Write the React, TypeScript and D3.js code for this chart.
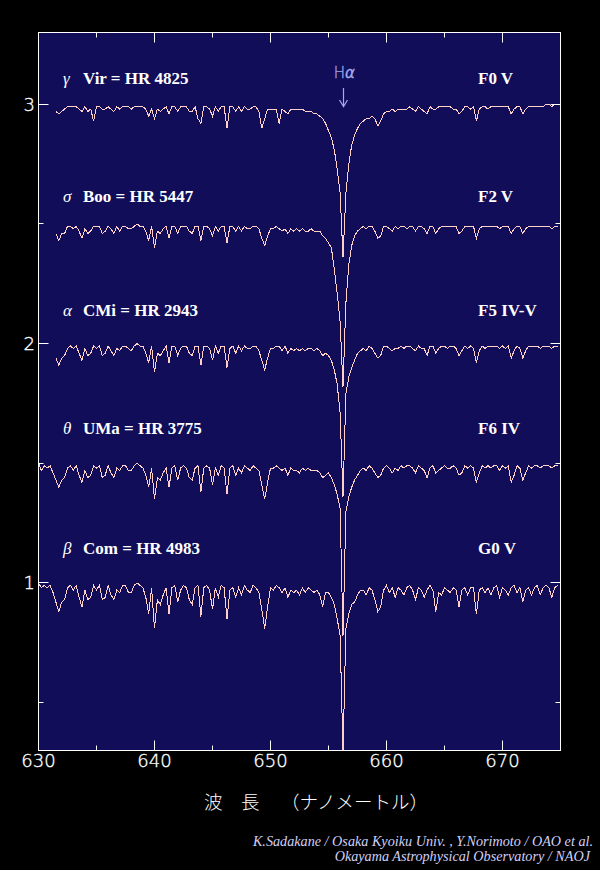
import React from 'react';
import * as d3 from 'd3';

// wavelength grid: 630.00 .. 675.00 nm, 0.25 nm step (index i -> 630 + 0.25 i)
const waveStart = 630;
const waveStep = 0.25;

const starGreek = ['γ', 'σ', 'α', 'θ', 'β'];
const starNames = ['Vir = HR 4825', 'Boo = HR 5447', 'CMi = HR 2943', 'UMa = HR 3775', 'Com = HR 4983'];
const spectralTypes = ['F0 V', 'F2 V', 'F5 IV-V', 'F6 IV', 'G0 V'];
const starOffsets = [2.0, 1.5, 1.0, 0.5, 0.0];

const xMajorTicks = [630, 640, 650, 660, 670];
const xMinorTicks = [635, 645, 655, 665, 675];
const yMajorTicks = [1, 2, 3];
const yMinorTicks = [0.5, 1.5, 2.5];

const xAxisTitleA = '波　長';
const xAxisTitleB = '（ナノメートル）';
const creditLines = [
  'K.Sadakane / Osaka Kyoiku Univ. , Y.Norimoto / OAO et al.',
  'Okayama Astrophysical Observatory / NAOJ',
];

// normalized flux (percent of continuum), null = no data
const fluxF0V = [null, null, null, null, null, null, 97, 96, 97, 98, 99, 99, 99, 99, 98, 97, 99, 97, 98, 93, 99, 99, 98, 98, 99, 98, 97, 99, 98, 99, 99, 99, 98, 99, 99, 99, 99, 98, 95, 98, 94, 98, 97, 98, 99, 96, 99, 99, 97, 99, 99, 99, 97, 97, 99, 94, 92, 99, 99, 98, 95, 99, 97, 99, 99, 90, 99, 99, 97, 99, 97, 99, 98, 98, 99, 99, 97, 90, 94, 98, 98, 98, 98, 92, 98, 97, 96, 98, 98, 98, 98, 98, 97, 97, 97, 96, 96, 95, 94, 92, 89, 86, 81, 73, 63, 36, 63, 75, 83, 87, 90, 92, 93, 94, 94, 95, 94, 91, 93, 96, 97, 97, 98, 97, 98, 98, 98, 98, 99, 98, 97, 99, 98, 97, 96, 99, 98, 98, 99, 99, 99, 99, 99, 98, 98, 96, 97, 99, 99, 98, 99, 93, 98, 99, 99, 98, 99, 99, 99, 99, 99, 99, 99, 96, 98, 99, 99, 96, 98, 99, 99, 99, 99, 99, 99, 100, 100, 99, 100, 100, null];

const fluxF2V = [null, null, null, null, null, null, 96, 93, 96, 96, 99, 99, 98, 99, 97, 94, 98, 96, 97, 99, 99, 99, 96, 97, 99, 98, 96, 99, 97, 99, 99, 98, 98, 99, 100, 99, 99, 97, 93, 99, 90, 97, 96, 98, 99, 94, 99, 99, 96, 99, 99, 99, 97, 96, 99, 99, 93, 99, 99, 98, 95, 99, 97, 99, 99, 92, 99, 99, 97, 99, 97, 99, 98, 98, 99, 99, 98, 94, 91, 95, 98, 98, 99, 98, 97, 98, 96, 98, 97, 98, 97, 98, 97, 97, 98, 97, 97, 97, 95, 94, 92, 90, 81, 71, 59, 32, 67, 83, 91, 95, 97, 98, 99, 98, 99, 99, 97, 94, 95, 99, 99, 98, 97, 99, 98, 99, 99, 98, 99, 99, 97, 99, 99, 98, 96, 99, 99, 96, 98, 99, 99, 99, 99, 99, 99, 96, 97, 99, 99, 99, 99, 94, 98, 99, 99, 99, 99, 99, 99, 98, 99, 99, 99, 96, 98, 99, 99, 96, 98, 99, 99, 99, 99, 99, 99, 99, 99, 98, 99, 99, null];

const fluxF5IVV = [null, null, null, null, null, null, 94, 91, 94, 95, 98, 99, 98, 99, 96, 93, 98, 95, 96, 99, 98, 99, 95, 96, 99, 97, 95, 98, 97, 99, 99, 98, 97, 99, 100, 99, 99, 96, 92, 99, 88, 96, 95, 97, 99, 92, 99, 99, 95, 98, 99, 99, 96, 95, 99, 99, 91, 99, 99, 98, 93, 99, 96, 99, 99, 90, 98, 99, 96, 99, 97, 99, 98, 98, 99, 99, 97, 93, 89, 94, 98, 98, 99, 99, 97, 99, 96, 98, 97, 98, 97, 98, 97, 98, 98, 97, 98, 97, 95, 96, 95, 93, 89, 83, 71, 36, 79, 86, 90, 93, 96, 97, 98, 97, 99, 98, 96, 94, 95, 99, 99, 98, 97, 98, 98, 99, 98, 99, 99, 98, 97, 99, 98, 98, 95, 99, 99, 96, 98, 99, 99, 98, 99, 99, 98, 95, 97, 99, 98, 99, 98, 92, 97, 99, 98, 99, 99, 99, 99, 98, 99, 98, 99, 94, 97, 99, 98, 94, 97, 99, 99, 99, 99, 98, 99, 99, 99, 98, 99, 99, null];

const fluxF6IV = [100, 97, 99, 98, 99, 96, 93, 90, 93, 94, 98, 99, 97, 99, 95, 92, 97, 94, 95, 99, 98, 99, 94, 95, 99, 96, 94, 98, 97, 99, 99, 97, 97, 99, 100, 99, 98, 95, 90, 98, 85, 94, 93, 96, 98, 90, 98, 99, 93, 98, 99, 98, 94, 93, 98, 99, 88, 98, 99, 98, 91, 98, 95, 99, 98, 87, 98, 99, 95, 98, 96, 99, 98, 97, 99, 98, 97, 91, 85, 92, 98, 98, 99, 98, 97, 98, 95, 98, 97, 97, 96, 98, 97, 98, 97, 97, 97, 96, 94, 95, 96, 94, 91, 87, 81, 28, 80, 86, 90, 93, 95, 97, 98, 97, 99, 98, 96, 94, 95, 98, 99, 98, 96, 98, 97, 99, 98, 99, 99, 98, 96, 99, 98, 97, 94, 98, 99, 96, 97, 98, 99, 98, 98, 99, 98, 95, 96, 99, 98, 99, 98, 92, 96, 99, 98, 99, 98, 99, 99, 97, 99, 98, 99, 92, 95, 99, 98, 93, 96, 99, 98, 99, 99, 98, 99, 99, 99, 98, 99, 99, null];

const fluxG0V = [100, 98, 99, 98, 99, 96, 92, 88, 92, 93, 98, 99, 97, 99, 94, 90, 97, 93, 94, 99, 97, 99, 93, 94, 99, 95, 93, 97, 96, 99, 99, 96, 96, 99, 100, 99, 98, 94, 87, 98, 81, 93, 91, 95, 98, 87, 98, 99, 92, 97, 99, 98, 93, 91, 98, 99, 86, 98, 99, 97, 89, 98, 94, 99, 98, 85, 97, 98, 94, 98, 95, 99, 97, 96, 99, 98, 96, 89, 81, 90, 98, 97, 99, 98, 96, 98, 94, 97, 96, 97, 95, 98, 96, 98, 97, 96, 97, 95, 90, 96, 96, 94, 91, 85, 78, 29, 81, 87, 91, 92, 95, 97, 97, 95, 98, 97, 93, 88, 90, 97, 99, 96, 98, 94, 98, 97, 95, 98, 99, 97, 93, 98, 97, 94, 97, 99, 97, 88, 96, 95, 98, 97, 96, 98, 97, 90, 97, 98, 95, 98, 98, 87, 97, 98, 96, 98, 95, 98, 99, 94, 98, 97, 95, 98, 99, 96, 98, 92, 97, 98, 95, 98, 99, 95, 98, 99, 98, 94, 98, 99, null];

const starFluxes = [fluxF0V, fluxF2V, fluxF5IVV, fluxF6IV, fluxG0V];

// layout (not data)
const labelBaselines = [84, 202, 316, 434, 554];

const W = 600;
const H = 870;
const PLOT = { left: 38.5, right: 560.5, top: 32.5, bottom: 750.5 };

export default function App() {
  const x = d3.scaleLinear().domain([630, 675]).range([PLOT.left, PLOT.right]);
  const y = d3.scaleLinear().domain([0.3, 3.3]).range([PLOT.bottom, PLOT.top]);
  const crisp = (v: number) => Math.floor(v) + 0.5;

  const paths = starFluxes.map((flux, k) => {
    const pts = flux.map((f, i) => [waveStart + waveStep * i, f] as [number, number | null]);
    const gen = d3
      .line<[number, number | null]>()
      .defined((d) => d[1] != null)
      .x((d) => x(d[0]))
      .y((d) => y((d[1] as number) / 100 + starOffsets[k]));
    return gen(pts) || '';
  });

  const lineColor = '#ffd0c8';
  const axisColor = '#ffffff';
  const tickFont = "'DejaVu Sans', 'Liberation Sans', sans-serif";
  const serif = "'Liberation Serif', 'DejaVu Serif', serif";
  const hAlphaX = x(656.28);

  return (
    <svg
      width={W}
      height={H}
      viewBox={`0 0 ${W} ${H}`}
      style={{ position: 'absolute', left: 0, top: 0, display: 'block' }}
    >
      <defs>
        <clipPath id="plotClip">
          <rect x={PLOT.left} y={PLOT.top} width={PLOT.right - PLOT.left} height={PLOT.bottom - PLOT.top} />
        </clipPath>
      </defs>
      <rect x={0} y={0} width={W} height={H} fill="#000000" />
      <rect
        x={PLOT.left}
        y={PLOT.top}
        width={PLOT.right - PLOT.left}
        height={PLOT.bottom - PLOT.top}
        fill="#110d58"
      />

      {/* spectra */}
      <g clipPath="url(#plotClip)">
        {paths.map((d, k) => (
          <path
            key={k}
            d={d}
            fill="none"
            stroke={lineColor}
            strokeWidth={1}
            shapeRendering="crispEdges"
          />
        ))}
      </g>

      {/* frame */}
      <rect
        x={PLOT.left}
        y={PLOT.top}
        width={PLOT.right - PLOT.left}
        height={PLOT.bottom - PLOT.top}
        fill="none"
        stroke={axisColor}
        strokeWidth={1}
      />

      {/* x ticks (bottom and top, pointing inward) */}
      {xMajorTicks.map((v) => (
        <g key={'xM' + v}>
          <line x1={crisp(x(v))} x2={crisp(x(v))} y1={PLOT.bottom} y2={PLOT.bottom - 10} stroke={axisColor} />
          <line x1={crisp(x(v))} x2={crisp(x(v))} y1={PLOT.top} y2={PLOT.top + 10} stroke={axisColor} />
          <text
            x={x(v)}
            y={767}
            fill="#ffffff"
            stroke="#ffffff"
            strokeWidth={0.35}
            fontFamily={tickFont}
            fontWeight={200}
            fontSize={18}
            textAnchor="middle"
          >
            {v}
          </text>
        </g>
      ))}
      {xMinorTicks.map((v) => (
        <g key={'xm' + v}>
          <line x1={crisp(x(v))} x2={crisp(x(v))} y1={PLOT.bottom} y2={PLOT.bottom - 5} stroke={axisColor} />
          <line x1={crisp(x(v))} x2={crisp(x(v))} y1={PLOT.top} y2={PLOT.top + 5} stroke={axisColor} />
        </g>
      ))}

      {/* y ticks (left and right) */}
      {yMajorTicks.map((v) => (
        <g key={'yM' + v}>
          <line x1={PLOT.left} x2={PLOT.left + 10} y1={crisp(y(v))} y2={crisp(y(v))} stroke={axisColor} />
          <line x1={PLOT.right} x2={PLOT.right - 10} y1={crisp(y(v))} y2={crisp(y(v))} stroke={axisColor} />
          <text
            x={35}
            y={y(v) + 6.5}
            fill="#ffffff"
            stroke="#ffffff"
            strokeWidth={0.35}
            fontFamily={tickFont}
            fontWeight={200}
            fontSize={18}
            textAnchor="end"
          >
            {v}
          </text>
        </g>
      ))}
      {yMinorTicks.map((v) => (
        <g key={'ym' + v}>
          <line x1={PLOT.left} x2={PLOT.left + 5} y1={crisp(y(v))} y2={crisp(y(v))} stroke={axisColor} />
          <line x1={PLOT.right} x2={PLOT.right - 5} y1={crisp(y(v))} y2={crisp(y(v))} stroke={axisColor} />
        </g>
      ))}

      {/* star labels */}
      {starNames.map((name, k) => (
        <g key={'lab' + k}>
          <text x={63} y={labelBaselines[k]} fill="#ffffff" fontFamily={serif} fontStyle="italic" fontSize={17}>
            {starGreek[k]}
          </text>
          <text x={83} y={labelBaselines[k]} fill="#ffffff" fontFamily={serif} fontWeight="bold" fontSize={17}>
            {name}
          </text>
          <text x={478} y={labelBaselines[k]} fill="#ffffff" fontFamily={serif} fontWeight="bold" fontSize={17}>
            {spectralTypes[k]}
          </text>
        </g>
      ))}

      {/* H alpha marker */}
      <text
        x={hAlphaX + 1}
        y={78}
        fill="#a4aaee"
        stroke="#a4aaee"
        strokeWidth={0.3}
        fontFamily={tickFont}
        fontWeight={200}
        fontSize={15}
        textAnchor="middle"
      >
        H<tspan fontStyle="italic">α</tspan>
      </text>
      <line x1={crisp(hAlphaX)} x2={crisp(hAlphaX)} y1={88} y2={106} stroke="#a4aaee" strokeWidth={1.2} />
      <path
        d={`M${crisp(hAlphaX) - 4},${100} L${crisp(hAlphaX)},${106.5} L${crisp(hAlphaX) + 4},${100}`}
        fill="none"
        stroke="#a4aaee"
        strokeWidth={1.2}
      />

      {/* x-axis title */}
      <text
        x={204}
        y={809}
        fill="#ffffff"
        fontFamily="'Noto Sans CJK JP', sans-serif"
        fontWeight={300}
        fontSize={18.5}
      >
        {xAxisTitleA}
      </text>
      <text
        x={281}
        y={809}
        fill="#ffffff"
        fontFamily="'Noto Sans CJK JP', sans-serif"
        fontWeight={300}
        fontSize={18.5}
      >
        {xAxisTitleB}
      </text>

      {/* credits */}
      {creditLines.map((t, k) => (
        <text
          key={'cr' + k}
          x={k === 0 ? 593 : 590}
          y={k === 0 ? 846 : 861}
          fill="#d0d0f8"
          fontFamily={serif}
          fontStyle="italic"
          fontSize={14.2}
          textAnchor="end"
        >
          {t}
        </text>
      ))}
    </svg>
  );
}
